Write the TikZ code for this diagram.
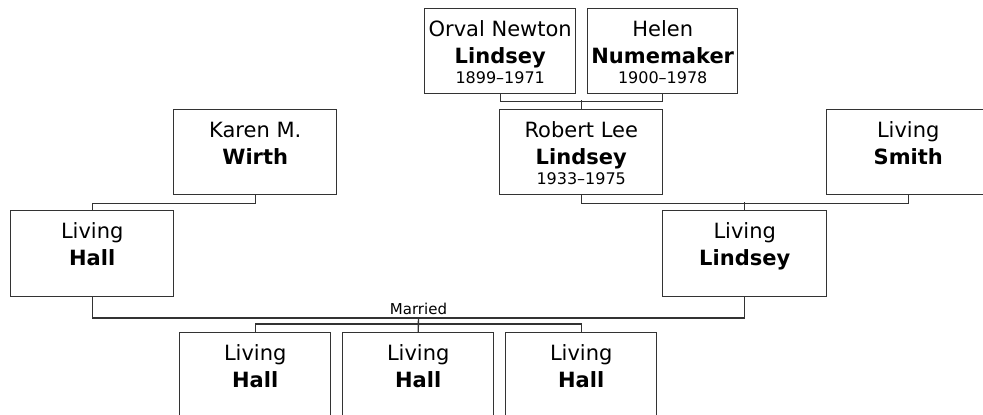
\documentclass[tikz,border=0pt]{standalone}
\usepackage{fontspec}
\setmainfont{DejaVu Sans}
\usetikzlibrary{calc}
\definecolor{edge}{HTML}{333333}
\tikzset{
  pbox/.style={draw=edge, line width=1.45pt, fill=white, inner sep=0pt, anchor=north west},
  conn/.style={draw=edge, line width=1.35pt},
  nm/.style={anchor=base, inner sep=0pt, font=\fontsize{21}{24}\selectfont},
  sur/.style={anchor=base, inner sep=0pt, font=\fontsize{21}{24}\selectfont\bfseries},
  dt/.style={anchor=base, inner sep=0pt, font=\fontsize{16}{19}\selectfont},
  lbl/.style={anchor=base, inner sep=0pt, font=\fontsize{15}{18}\selectfont},
}
\newcommand\personbox[7]{%
  \node[pbox, minimum width=#4pt, minimum height=#5pt] (#1) at (#2,#3) {};
  \node[nm] (#1-a) at ([yshift=-28.5pt]#1.north) {#6};
  \node[sur] (#1-b) at ([yshift=-55.5pt]#1.north) {#7};
}
\begin{document}
\begin{tikzpicture}[x=1pt,y=-1pt]
\useasboundingbox (0,0) rectangle (983,415);
\clip (0,0) rectangle (983,415);
% boxes
\personbox{orval}{424}{8}{151}{85}{Orval Newton}{Lindsey}
\node[dt] (orval-c) at ([yshift=-75.3pt]orval.north) {1899–1971};
\personbox{helen}{587}{8}{150}{85}{Helen}{Numemaker}
\node[dt] (helen-c) at ([yshift=-75.3pt]helen.north) {1900–1978};
\personbox{robert}{499}{109}{163}{85}{Robert Lee}{Lindsey}
\node[dt] (robert-c) at ([yshift=-75.3pt]robert.north) {1933–1975};
\personbox{karen}{173}{109}{163}{85}{Karen M.}{Wirth}
\personbox{smith}{826}{109}{163}{85}{Living}{Smith}
\personbox{hall}{10}{210}{163}{86}{Living}{Hall}
\personbox{lindsey}{662}{210}{164}{86}{Living}{Lindsey}
\personbox{ca}{179}{332}{151}{100}{Living}{Hall}
\personbox{cb}{342}{332}{151}{100}{Living}{Hall}
\personbox{cc}{505}{332}{151}{100}{Living}{Hall}
% connectors
\draw[conn] (orval.south) -- ++(0,7) -| (helen.south);
\draw[conn] (robert.north) -- ++(0,-9);
\draw[conn] (karen.south) -- ++(0,8) -| (hall.north);
\draw[conn] (robert.south) -- ++(0,8) -| (smith.south);
\draw[conn] (lindsey.north) -- ++(0,-8);
\draw[conn] (hall.south) -- ++(0,20.7) -| (lindsey.south);
\coordinate (mc) at ($(hall.south)!0.5!(lindsey.south)+(0,20.7)$);
\node[lbl] (married) at ([yshift=3.5pt]mc) {Married};
\draw[conn] (mc) -- (cb.north);
\draw[conn] (ca.north) -- ++(0,-8) -| (cc.north);
\end{tikzpicture}
\end{document}
